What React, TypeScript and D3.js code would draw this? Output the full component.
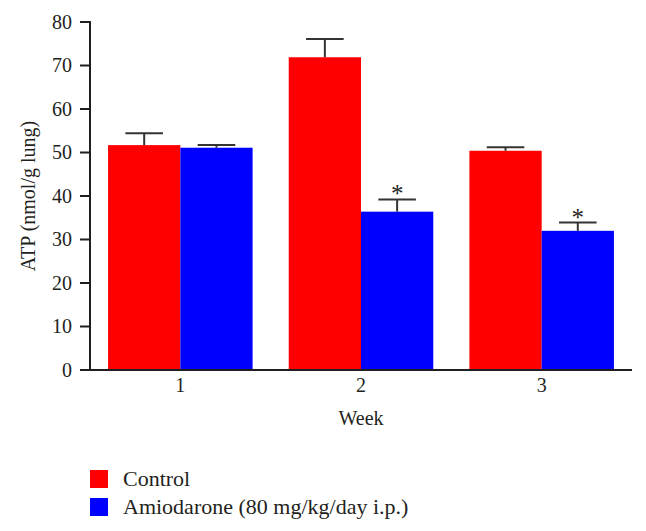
import React from "react";
import * as d3 from "d3";

const weeks = ["1", "2", "3"];
const seriesNames = ["Control", "Amiodarone (80 mg/kg/day i.p.)"];
const controlValues = [51.7, 71.9, 50.4];
const controlErrors = [2.7, 4.2, 0.8];
const amioValues = [51.1, 36.4, 32.0];
const amioErrors = [0.6, 2.8, 1.9];
const amioSignificant = [false, true, true];
const yTicks = [0, 10, 20, 30, 40, 50, 60, 70, 80];
const colors = ["#ff0000", "#0000ff"];

const W = 646;
const H = 531;
const FONT = "'Liberation Serif', 'Times New Roman', serif";
const AXIS = "#231f20";

export default function App() {
  const x = d3.scaleBand<string>().domain(weeks).range([90, 632]).paddingInner(0.2).paddingOuter(0.1);
  const inner = d3.scaleBand<number>().domain([0, 1]).range([0, x.bandwidth()]);
  const y = d3.scaleLinear().domain([0, 80]).range([370, 22]);

  const series = [
    { values: controlValues, errors: controlErrors, sig: [false, false, false] },
    { values: amioValues, errors: amioErrors, sig: amioSignificant },
  ];

  const bw = inner.bandwidth();
  const capHalf = bw * 0.26;

  return (
    <svg width={W} height={H} style={{ position: "absolute", left: 0, top: 0, display: "block" }} fontFamily={FONT}>
      <rect x={0} y={0} width={W} height={H} fill="#fff" />
      {series.map((s, si) =>
        weeks.map((w, i) => {
          const bx = (x(w) as number) + (inner(si) as number);
          const cx = bx + bw / 2;
          const top = y(s.values[i]);
          const errTop = y(s.values[i] + s.errors[i]);
          return (
            <g key={`${si}-${i}`}>
              <rect x={bx} y={top} width={bw} height={y(0) - top} fill={colors[si]} />
              <line x1={cx} x2={cx} y1={top} y2={errTop} stroke="#333" strokeWidth={2} />
              <line x1={cx - capHalf} x2={cx + capHalf} y1={errTop} y2={errTop} stroke="#333" strokeWidth={2} />
              {s.sig[i] && (
                <text x={cx} y={errTop + 3} textAnchor="middle" fontSize={25} fill="#231f20">*</text>
              )}
            </g>
          );
        })
      )}
      {/* y axis */}
      <line x1={90} x2={90} y1={y(80) - 1} y2={y(0)} stroke={AXIS} strokeWidth={2} />
      {yTicks.map((t) => (
        <g key={t}>
          <line x1={80} x2={90} y1={y(t)} y2={y(t)} stroke={AXIS} strokeWidth={2} />
          <text x={72} y={y(t)} dy="0.34em" textAnchor="end" fontSize={20} fill="#231f20">{t}</text>
        </g>
      ))}
      {/* x axis */}
      <line x1={80} x2={632} y1={y(0)} y2={y(0)} stroke={AXIS} strokeWidth={2} />
      {weeks.map((w) => (
        <text key={w} x={(x(w) as number) + x.bandwidth() / 2} y={392} textAnchor="middle" fontSize={20} fill="#231f20">{w}</text>
      ))}
      <text x={(x("2") as number) + x.bandwidth() / 2} y={425} textAnchor="middle" fontSize={20} fill="#231f20">Week</text>
      <text transform={`translate(35, ${(y(0) + y(80)) / 2}) rotate(-90)`} textAnchor="middle" fontSize={20} fill="#231f20">ATP (nmol/g lung)</text>
      {/* legend */}
      {seriesNames.map((name, i) => (
        <g key={name}>
          <rect x={90} y={470 + i * 28} width={18} height={18} fill={colors[i]} />
          <text x={123} y={486 + i * 28} fontSize={22} fill="#231f20">{name}</text>
        </g>
      ))}
    </svg>
  );
}
